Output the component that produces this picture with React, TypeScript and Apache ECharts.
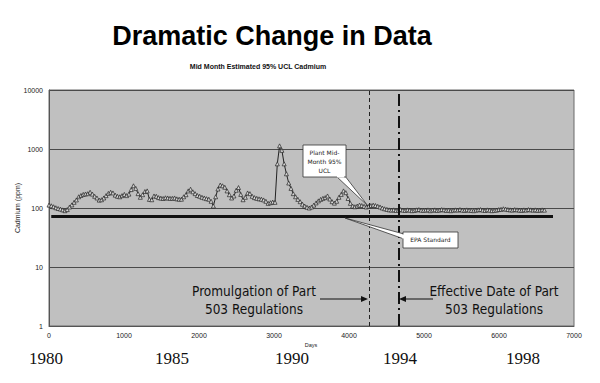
import React, { useEffect, useRef } from "react";
import * as echarts from "echarts";

// ---- data ----
const STEP_DAYS = 30.44; // one point per month (mid-month estimate)
const ucl1: number[] = [
  112, 109, 105, 101, 98, 96, 93, 90, 94, 104,
  113, 125, 137, 155, 163, 170, 173, 175, 185, 172,
  158, 148, 136, 138, 148, 162, 177, 185, 180, 165,
  158, 155, 162, 170, 162, 172, 205, 238, 215, 175,
  152, 168, 190, 195, 140, 138, 160, 158, 150, 147,
  145, 149, 148, 146, 146, 148, 143, 141, 141, 155,
  168, 195, 208, 188, 175, 163, 158, 152, 148, 144,
  141, 130, 108, 155, 210, 245, 238, 225, 195, 168,
  148, 160, 200, 222, 170, 138, 152, 180, 175, 158,
  150, 146, 143, 141, 137, 130, 120, 123, 126, 125,
  560, 1130, 950, 560, 380, 265, 215, 175, 155, 140,
  128, 116, 108, 103, 100, 104, 112, 122, 132, 140,
  146, 150, 160, 142, 128, 121, 130, 152, 170, 195,
  182, 145, 120, 108, 105, 108, 112, 110, 107, 104,
  106, 110, 112, 110, 107, 104, 100, 97, 95, 93,
];
const ucl2: number[] = [
  92, 93, 91, 92, 94, 92, 91, 93, 92, 90,
  91, 93, 94, 92, 91, 92, 93, 90, 92, 93,
  91, 92, 94, 93, 91, 92, 90, 92, 93, 92,
  94, 92, 91, 93, 92, 91, 90, 92, 93, 94,
  92, 91, 93, 92, 90, 91, 92, 94, 95, 97,
  96, 94, 93, 92, 94, 93, 92, 91, 93, 92,
  94, 93, 92, 93, 91, 92, 93, 92,
];
const uclValues = [...ucl1, ...ucl2];
const epaDays = [30, 6720];
const epaStandard = 72;
const promulgationDay = 4267;
const effectiveDay = 4667;
const xTicks = [0, 1000, 2000, 3000, 4000, 5000, 6000, 7000];
const yearLabels = ["1980", "1985", "1990", "1994", "1998"];

const SANS = "'Liberation Sans', Arial, sans-serif";
const CALLOUT = "'DejaVu Sans', Tahoma, sans-serif";

export default function App() {
  const ref = useRef<HTMLDivElement>(null);
  useEffect(() => {
    if (!ref.current) return;
    const chart = echarts.init(ref.current, undefined, { renderer: "svg" });
    const uclData = uclValues.map((v, i) => [i * STEP_DAYS, v]);
    const yearX = [46, 172, 292, 400, 523];
    const txt = (text: string, x: number, y: number, size: number, extra: any = {}, el: any = {}) => ({
      type: "text",
      x,
      y,
      z: 100,
      ...el,
      style: {
        text,
        fontSize: size,
        fontFamily: SANS,
        fill: "#000",
        align: "center",
        verticalAlign: "middle",
        ...extra,
      },
    });
    chart.setOption({
      animation: false,
      backgroundColor: "#ffffff",
      grid: {
        left: 49,
        top: 90,
        width: 525,
        height: 236,
        containLabel: false,
        outerBoundsMode: "none",
        show: true,
        backgroundColor: "#c0c0c0",
        borderColor: "#6a6a6a",
        borderWidth: 1,
      },
      xAxis: {
        type: "value",
        min: xTicks[0],
        max: xTicks[xTicks.length - 1],
        interval: 1000,
        axisLine: { show: true, lineStyle: { color: "#555" } },
        axisTick: { show: false },
        splitLine: { show: false },
        axisLabel: {
          fontSize: 7,
          fontFamily: SANS,
          color: "#222",
          margin: 6,
          formatter: (v: number) => String(v),
        },
      },
      yAxis: {
        type: "log",
        logBase: 10,
        min: 1,
        max: 10000,
        axisLine: { show: true, lineStyle: { color: "#555" } },
        axisTick: { show: false },
        splitLine: { show: true, lineStyle: { color: "#4a4a4a", width: 1 } },
        axisLabel: {
          fontSize: 7,
          fontFamily: SANS,
          color: "#222",
          margin: 6,
          formatter: (v: number) => String(Math.round(v)),
        },
      },
      series: [
        {
          type: "line",
          data: epaDays.map((d) => [d, epaStandard]),
          symbol: "none",
          lineStyle: { color: "#111", width: 3 },
          z: 2,
          markLine: {
            symbol: "none",
            silent: true,
            label: { show: false },
            data: [
              { xAxis: promulgationDay, lineStyle: { type: [4, 3], width: 1, color: "#222" } },
              { xAxis: effectiveDay, lineStyle: { type: [12, 4, 2, 4], width: 2, color: "#111" } },
            ],
          },
        },
        {
          type: "line",
          data: uclData,
          symbol: "triangle",
          symbolSize: 4,
          showAllSymbol: true,
          lineStyle: { color: "#222", width: 1 },
          itemStyle: { color: "#d8d8d8", borderColor: "#222", borderWidth: 0.7 },
          z: 3,
        },
      ],
      graphic: [
        txt("Dramatic Change in Data", 272, 36, 27, { fontWeight: "bold" }),
        txt("Mid Month Estimated 95% UCL Cadmium", 258, 66, 7, { fontWeight: "bold", fill: "#111" }),
        txt("Cadmium (ppm)", 17, 208, 7, { fill: "#222" }, { rotation: Math.PI / 2 }),
        // Plant callout
        {
          type: "polygon",
          z: 90,
          shape: { points: [[336, 176], [368, 206], [345, 176]] },
          style: { fill: "#fff", stroke: "#333", lineWidth: 0.8 },
        },
        {
          type: "rect",
          z: 91,
          shape: { x: 303, y: 145, width: 43, height: 32 },
          style: { fill: "#fff", stroke: "#333", lineWidth: 0.8 },
        },
        {
          type: "rect",
          z: 92,
          shape: { x: 337, y: 175.5, width: 7, height: 2 },
          style: { fill: "#fff" },
        },
        txt("Plant Mid-\nMonth 95%\nUCL", 324.5, 161, 6, { fontFamily: CALLOUT, lineHeight: 9, fill: "#222" }),
        // EPA callout
        {
          type: "polygon",
          z: 90,
          shape: { points: [[404, 234], [345, 218], [404, 239]] },
          style: { fill: "#fff", stroke: "#333", lineWidth: 0.8 },
        },
        {
          type: "rect",
          z: 91,
          shape: { x: 403, y: 232, width: 55, height: 16 },
          style: { fill: "#fff", stroke: "#333", lineWidth: 0.8 },
        },
        {
          type: "rect",
          z: 92,
          shape: { x: 402, y: 234.5, width: 2, height: 4 },
          style: { fill: "#fff" },
        },
        txt("EPA Standard", 430.5, 239, 6, { fontFamily: CALLOUT, fill: "#222" }),
        // regulation notes
        txt("Promulgation of Part\n503 Regulations", 254, 300, 13.5, {
          fontFamily: "'DejaVu Sans Condensed', 'DejaVu Sans', sans-serif",
          lineHeight: 18,
          fill: "#111",
        }),
        txt("Effective Date of Part\n503 Regulations", 494, 300, 13.5, {
          fontFamily: "'DejaVu Sans Condensed', 'DejaVu Sans', sans-serif",
          lineHeight: 18,
          fill: "#111",
        }),
        {
          type: "line",
          z: 95,
          shape: { x1: 320, y1: 299, x2: 363, y2: 299 },
          style: { stroke: "#111", lineWidth: 1 },
        },
        {
          type: "polygon",
          z: 95,
          shape: { points: [[368, 299], [361, 296], [361, 302]] },
          style: { fill: "#111" },
        },
        {
          type: "line",
          z: 95,
          shape: { x1: 433, y1: 299, x2: 404, y2: 299 },
          style: { stroke: "#111", lineWidth: 1 },
        },
        {
          type: "polygon",
          z: 95,
          shape: { points: [[399, 299], [406, 296], [406, 302]] },
          style: { fill: "#111" },
        },
        txt("Days", 311, 345, 5.5, { fill: "#222" }),
        ...yearLabels.map((y, i) =>
          txt(y, yearX[i], 358, 17, { fontFamily: "'Liberation Serif', 'Times New Roman', serif", fill: "#111" })
        ),
      ],
    });
    return () => chart.dispose();
  }, []);
  return (
    <div
      ref={ref}
      style={{ position: "fixed", left: 0, top: 0, width: 600, height: 383 }}
    />
  );
}
